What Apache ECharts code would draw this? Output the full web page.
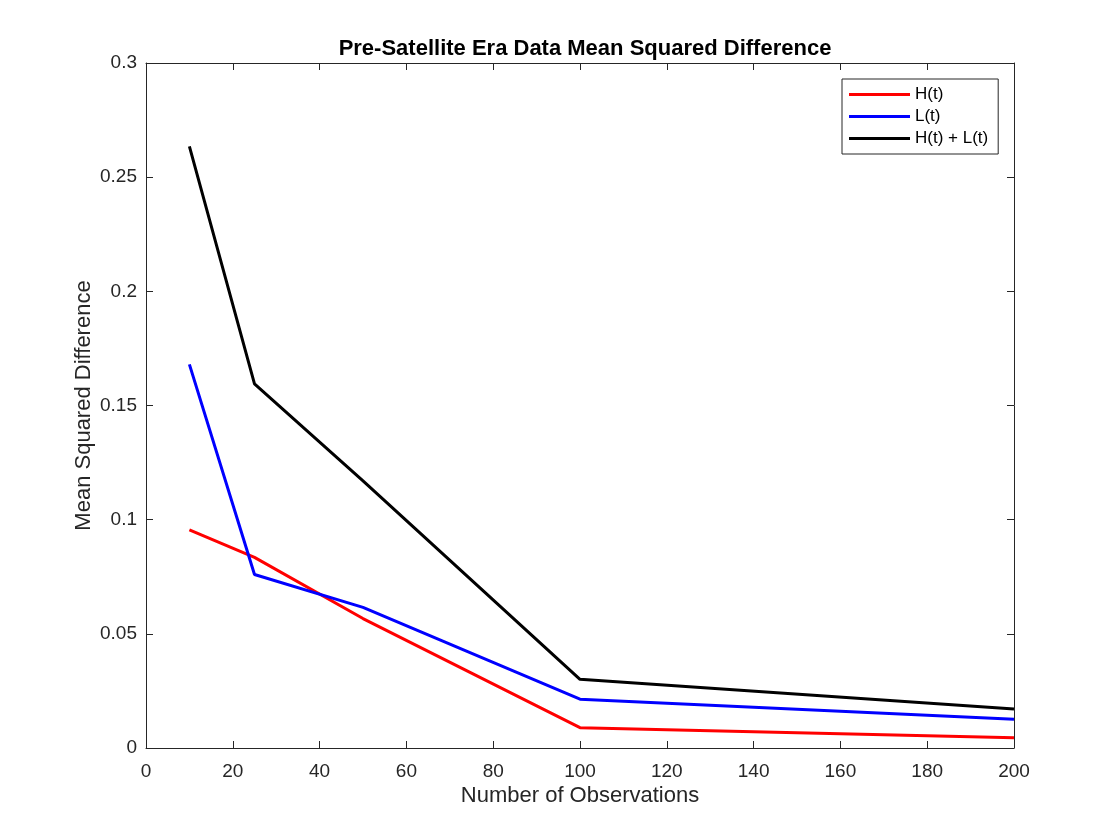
<!DOCTYPE html>
<html>
<head>
    <meta charset="utf-8" />
    <title>Pre-Satellite Era Data Mean Squared Difference</title>
    <script src="https://cdn.jsdelivr.net/npm/echarts@6/dist/echarts.min.js"></script>
    <style>
        html, body { margin: 0; padding: 0; background: #fff; }
    </style>
</head>
<body>
    <div id="main" style="width: 1120px;height:840px;"></div>
    <script type="text/javascript">
        // data
        var observations = [10, 25, 50, 100, 200];
        var hValues = [0.0955, 0.0835, 0.0567, 0.0089, 0.0045];
        var lValues = [0.168, 0.0760, 0.0616, 0.0214, 0.0126];
        var sumValues = [0.2635, 0.1595, 0.1170, 0.0301, 0.0171];
        var seriesNames = ['H(t)', 'L(t)', 'H(t) + L(t)'];
        var seriesColors = ['#ff0000', '#0000ff', '#000000'];

        function pairs(ys) {
            var out = [];
            for (var i = 0; i < observations.length; i++) {
                out.push([observations[i], ys[i]]);
            }
            return out;
        }

        var font = 'Liberation Sans, Arial, Helvetica, sans-serif';
        var axisColor = '#262626';

        var myChart = echarts.init(document.getElementById("main"));

        // box look: main axes bottom/left, mirror axes top/right with ticks only
        var lineStyle = { color: axisColor, width: 1 };
        var tickStyle = { show: true, inside: true, length: 7, lineStyle: lineStyle };

        var option = {
            animation: false,
            backgroundColor: '#fff',
            title: {
                text: 'Pre-Satellite Era Data Mean Squared Difference',
                left: 580,
                textAlign: 'center',
                top: 33,
                textStyle: { fontFamily: font, fontSize: 22, fontWeight: 'bold', color: '#000' }
            },
            grid: {
                left: 146,
                right: 106,
                top: 63,
                bottom: 92,
                containLabel: false
            },
            legend: {
                orient: 'vertical',
                left: 842,
                top: 79,
                padding: [7, 10, 7, 7],
                itemGap: 5,
                itemWidth: 61,
                itemHeight: 3,
                icon: 'rect',
                backgroundColor: '#fff',
                borderColor: axisColor,
                borderWidth: 1,
                textStyle: { fontFamily: font, fontSize: 17, color: '#000' },
                data: seriesNames
            },
            xAxis: [{
                type: 'value',
                min: 0,
                max: 200,
                interval: 20,
                position: 'bottom',
                name: 'Number of Observations',
                nameLocation: 'middle',
                nameGap: 37,
                nameMoveOverlap: false,
                nameTextStyle: { fontFamily: font, fontSize: 22, color: axisColor },
                axisLine: { show: true, onZero: false, lineStyle: lineStyle },
                axisTick: tickStyle,
                axisLabel: { margin: 14, fontFamily: font, fontSize: 19, color: axisColor },
                splitLine: { show: false }
            }, {
                type: 'value',
                min: 0,
                max: 200,
                interval: 20,
                position: 'top',
                axisLine: { show: true, onZero: false, lineStyle: lineStyle },
                axisTick: tickStyle,
                axisLabel: { show: false },
                splitLine: { show: false }
            }],
            yAxis: [{
                type: 'value',
                min: 0,
                max: 0.3,
                interval: 0.05,
                position: 'left',
                name: 'Mean Squared Difference',
                nameLocation: 'middle',
                nameGap: 51,
                nameMoveOverlap: false,
                nameTextStyle: { fontFamily: font, fontSize: 22, color: axisColor },
                axisLine: { show: true, onZero: false, lineStyle: lineStyle },
                axisTick: tickStyle,
                axisLabel: {
                    margin: 9,
                    fontFamily: font,
                    fontSize: 19,
                    color: axisColor,
                    formatter: function (v) { return String(+v.toFixed(2)); }
                },
                splitLine: { show: false }
            }, {
                type: 'value',
                min: 0,
                max: 0.3,
                interval: 0.05,
                position: 'right',
                axisLine: { show: true, onZero: false, lineStyle: lineStyle },
                axisTick: tickStyle,
                axisLabel: { show: false },
                splitLine: { show: false }
            }],
            series: [{
                name: seriesNames[0],
                type: 'line',
                data: pairs(hValues),
                showSymbol: false,
                symbol: 'none',
                color: seriesColors[0],
                lineStyle: { color: seriesColors[0], width: 3 }
            }, {
                name: seriesNames[1],
                type: 'line',
                data: pairs(lValues),
                showSymbol: false,
                symbol: 'none',
                color: seriesColors[1],
                lineStyle: { color: seriesColors[1], width: 3 }
            }, {
                name: seriesNames[2],
                type: 'line',
                data: pairs(sumValues),
                showSymbol: false,
                symbol: 'none',
                color: seriesColors[2],
                lineStyle: { color: seriesColors[2], width: 3 }
            }]
        };

        myChart.setOption(option);
    </script>
</body>
</html>
